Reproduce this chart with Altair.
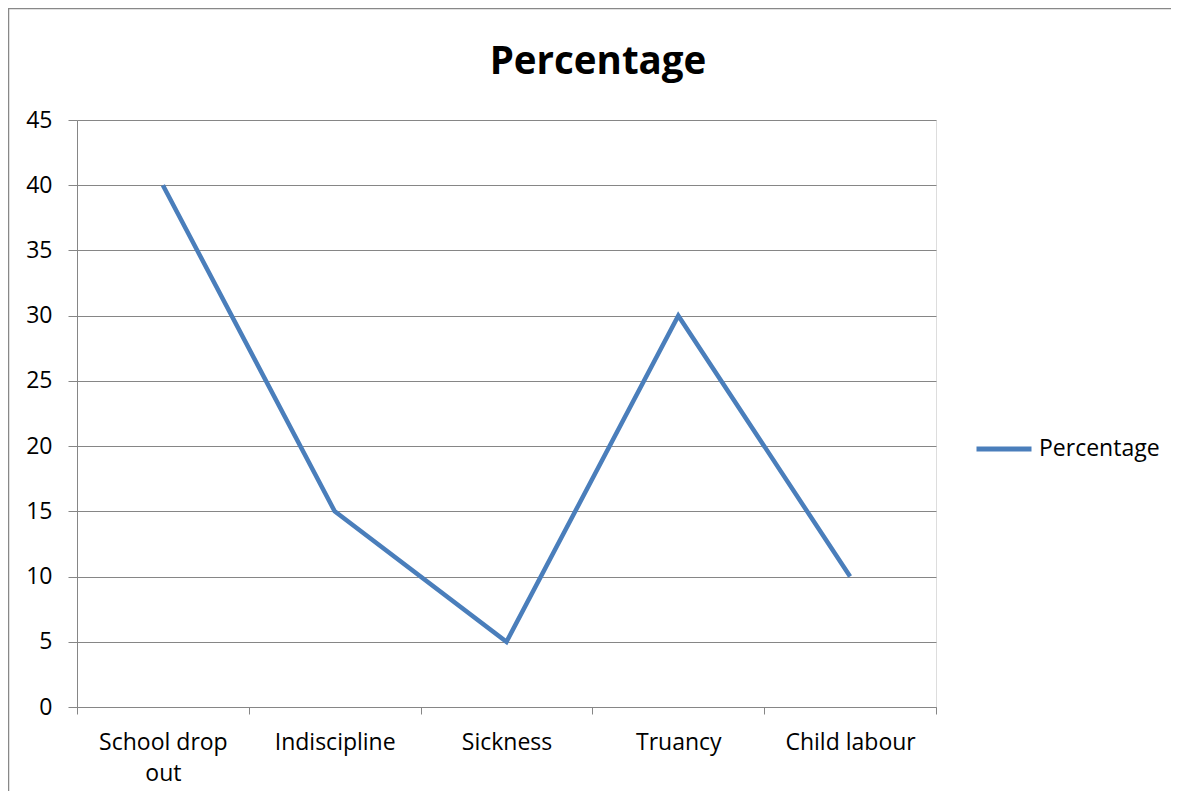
import altair as alt
import pandas as pd

categories = ["School drop out", "Indiscipline", "Sickness", "Truancy", "Child labour"]
percentages = [40, 15, 5, 30, 10]
series_name = "Percentage"
chart_title = "Percentage"
y_ticks = [0, 5, 10, 15, 20, 25, 30, 35, 40, 45]

df = pd.DataFrame({"category": categories, "value": percentages, "series": series_name})
title_df = pd.DataFrame({"t": [chart_title]})

FONT = "Open Sans"
GRID = "#868686"
BLUE = "#4A7EBB"

base = alt.Chart(df)

line = base.mark_line(strokeWidth=4.5, strokeJoin="miter", clip=False).encode(
    x=alt.X(
        "category:N",
        sort=None,
        bandPosition=0.5,
        scale=alt.Scale(type="band", paddingInner=0, paddingOuter=0),
        axis=alt.Axis(
            title=None,
            labelAngle=0,
            labelFontSize=23,
            labelColor="#000000",
            labelFont=FONT,
            labelPadding=17,
            tickBand="extent",
            tickColor=GRID,
            tickSize=7,
            domainColor=GRID,
            grid=False,
            labelExpr="datum.label == 'School drop out' ? ['School drop', 'out'] : datum.label",
            labelLineHeight=31,
        ),
    ),
    y=alt.Y(
        "value:Q",
        scale=alt.Scale(domain=[0, 45], nice=False),
        axis=alt.Axis(
            title=None,
            values=y_ticks,
            labelFontSize=23,
            labelColor="#000000",
            labelFont=FONT,
            labelPadding=16,
            tickColor=GRID,
            tickSize=9,
            domainColor=GRID,
            gridColor=GRID,
            gridOpacity=1,
        ),
    ),
    color=alt.Color(
        "series:N",
        scale=alt.Scale(range=[BLUE]),
        legend=alt.Legend(
            title=None,
            orient="none",
            legendX=897,
            legendY=299,
            symbolType="stroke",
            symbolSize=3025,
            symbolStrokeWidth=5,
            labelFontSize=23,
            labelFont=FONT,
            labelColor="#000000",
            labelOffset=5,
        ),
    ),
)

title = alt.Chart(title_df).mark_text(
    font=FONT, fontSize=38.5, fontWeight="bold", color="#000000",
    align="center", baseline="alphabetic",
).encode(text="t:N", x=alt.value(521), y=alt.value(-46))

border = base.mark_rect(fill=None, stroke="#888888", strokeWidth=1.5, clip=False).encode(
    x=alt.value(-68.5), x2=alt.value(1300), y=alt.value(-111.5), y2=alt.value(900)
).transform_filter("datum.category == 'Sickness'")

chart = alt.layer(border, line, title).properties(
    width=859,
    height=587,
    autosize=alt.AutoSizeParams(type="none"),
    padding={"left": 69, "top": 112, "right": 235, "bottom": 84},
).configure_view(stroke=None).configure(background="white")

chart.save("out.html", embed_options={"renderer": "svg", "actions": False})
